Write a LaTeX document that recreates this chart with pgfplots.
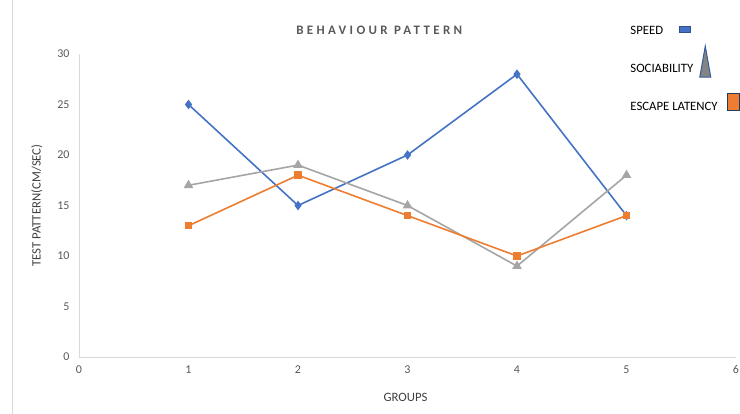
\documentclass[border=0pt]{standalone}
\usepackage{pgfplots}
\pgfplotsset{compat=1.18}
\usepackage{fontspec}
\setmainfont{Carlito}
\newfontfamily\titlefont[LetterSpace=26]{Carlito}
\definecolor{sblue}{HTML}{4472C4}
\definecolor{sgray}{HTML}{A5A5A5}
\definecolor{sorange}{HTML}{ED7D31}
\definecolor{tick}{HTML}{595959}
\definecolor{axl}{HTML}{D9D9D9}
\begin{document}
\begin{tikzpicture}
\path[use as bounding box] (0bp,0bp) rectangle (740bp,414bp);
\draw[axl, line width=0.8bp] (12bp,0bp) -- (12bp,414bp);
\begin{axis}[
  at={(79bp,57bp)}, anchor=south west,
  scale only axis, width=657bp, height=303bp,
  xmin=0, xmax=6, ymin=0, ymax=30,
  xtick={0,1,...,6}, ytick={0,5,...,30},
  axis x line*=bottom, axis y line*=left,
  axis line style={axl, line width=0.8bp},
  every axis x line/.append style={-}, every axis y line/.append style={-},
  tick style={draw=none},
  /pgf/number format/assume math mode=true,
  tick label style={font=\fontsize{12}{14}\selectfont, text=tick},
  xticklabel style={yshift=-5bp},
  yticklabel style={xshift=-6bp},
  xlabel={GROUPS}, ylabel={TEST PATTERN(CM/SEC)},
  label style={font=\fontsize{12.8}{15}\selectfont, text=black!75},
  xlabel style={at={(axis description cs:0.497,-0.132)}, anchor=center},
  ylabel style={at={(axis description cs:-0.064,0.5)}, anchor=center},
  clip=false,
  legend style={draw=none, fill=none, at={(rel axis cs:0.839,1.091)}, anchor=north west,
    font=\fontsize{12.8}{15}\selectfont, inner sep=0pt, row sep=28bp,
    legend cell align=left, nodes={inner sep=0pt}},
  legend image code/.code={},
  legend columns=1,
]
\addplot[sblue, line width=1.6bp, mark=diamond*, mark size=3.5bp, mark options={fill=sblue}]
  coordinates {(1,25) (2,15) (3,20) (4,28) (5,14)};
\addlegendentry{SPEED\hspace{16bp}\raisebox{2bp}[0pt][0pt]{\tikz\draw[draw=sblue!70!black, fill=sblue, line width=0.6bp] (0,0) rectangle (11bp,6bp);}}
\addplot[sgray, line width=1.6bp, mark=triangle*, mark size=4bp, mark options={fill=sgray}]
  coordinates {(1,17) (2,19) (3,15) (4,9) (5,18)};
\addlegendentry{SOCIABILITY\hspace{6bp}\raisebox{-5bp}[0pt][0pt]{\tikz\draw[draw=sblue!80!black, fill=sgray!80!black, line width=1bp] (0,0) -- (11bp,0) -- (5.5bp,31bp) -- cycle;}}
\addplot[sorange, line width=1.6bp, mark=square*, mark size=3bp, mark options={fill=sorange}]
  coordinates {(1,13) (2,18) (3,14) (4,10) (5,14)};
\addlegendentry{ESCAPE LATENCY\hspace{9bp}\raisebox{0bp}[0pt][0pt]{\tikz\draw[draw=sblue!50!black, fill=sorange, line width=0.8bp] (0,0) rectangle (12bp,17bp);}}
\node[font=\titlefont\bfseries\fontsize{13}{15}\selectfont, text=tick] at (rel axis cs:0.457,1.079) {BEHAVIOUR PATTERN};
\end{axis}
\end{tikzpicture}
\end{document}
